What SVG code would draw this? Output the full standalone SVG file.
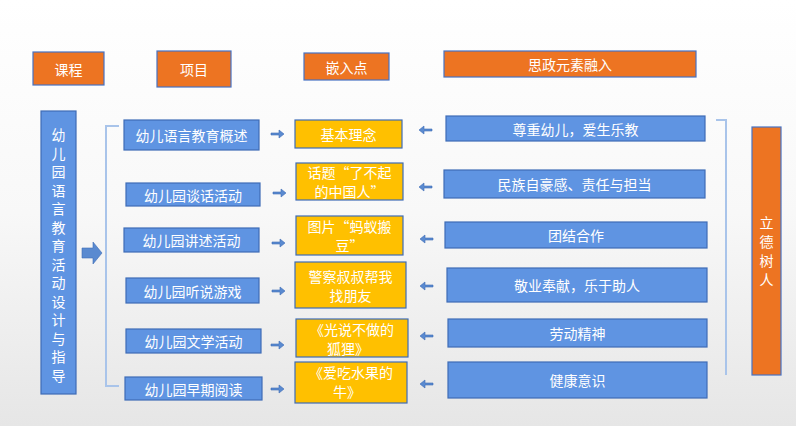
<svg xmlns="http://www.w3.org/2000/svg" width="796" height="426" viewBox="0 0 796 426">
<defs>
<linearGradient id="bg" x1="0" y1="0" x2="0" y2="1"><stop offset="0" stop-color="#ffffff"/><stop offset="0.5" stop-color="#f8f8f8"/><stop offset="1" stop-color="#e6e6e6"/></linearGradient>
<style>
.o{fill:#ed7422;stroke:#4672c4;stroke-width:1.2}
.b{fill:#5f94e2;stroke:#3e6cb6;stroke-width:1.2}
.y{fill:#ffc000;stroke:#3e6cb6;stroke-width:1.2}
text{font-family:"Noto Sans CJK SC",sans-serif;fill:#fff;font-size:14px;text-anchor:middle;dominant-baseline:central}
.ar{fill:#5a8ad0;stroke:#3e6cb6;stroke-width:0.6}
.br{fill:none;stroke:#a9c4ea;stroke-width:2}
</style>
</defs>
<rect width="796" height="426" fill="url(#bg)"/>
<g id="h1"><rect class="o" x="33" y="52" width="71" height="33"/><text x="68.5" y="68.5">课程</text></g>
<g id="h2"><rect class="o" x="157" y="51" width="74" height="36"/><text x="194" y="69">项目</text></g>
<g id="h3"><rect class="o" x="304" y="53" width="85" height="27"/><text x="346.5" y="66.5">嵌入点</text></g>
<g id="h4"><rect class="o" x="444" y="51" width="252" height="26"/><text x="570" y="64">思政元素融入</text></g>
<g id="course"><rect class="b" x="41" y="111" width="35" height="283"/>
<text x="58.5" y="94" font-size="15"><tspan x="58.5" dy="40">幼</tspan><tspan x="58.5" dy="18.5">儿</tspan><tspan x="58.5" dy="18.5">园</tspan><tspan x="58.5" dy="18.5">语</tspan><tspan x="58.5" dy="18.5">言</tspan><tspan x="58.5" dy="18.5">教</tspan><tspan x="58.5" dy="18.5">育</tspan><tspan x="58.5" dy="18.5">活</tspan><tspan x="58.5" dy="18.5">动</tspan><tspan x="58.5" dy="18.5">设</tspan><tspan x="58.5" dy="18.5">计</tspan><tspan x="58.5" dy="18.5">与</tspan><tspan x="58.5" dy="18.5">指</tspan><tspan x="58.5" dy="18.5">导</tspan></text></g>
<g id="goal"><rect class="o" x="752" y="127" width="29" height="248"/>
<text x="766.5" y="222" font-size="15"><tspan x="766.5" dy="0">立</tspan><tspan x="766.5" dy="19">德</tspan><tspan x="766.5" dy="19">树</tspan><tspan x="766.5" dy="19">人</tspan></text></g>
<g id="p1"><rect class="b" x="124" y="120" width="135" height="30"/><text x="191.5" y="135">幼儿语言教育概述</text></g>
<g id="p2"><rect class="b" x="126" y="183" width="134" height="23"/><text x="193" y="194.5">幼儿园谈话活动</text></g>
<g id="p3"><rect class="b" x="124" y="228" width="135" height="24"/><text x="191.5" y="240">幼儿园讲述活动</text></g>
<g id="p4"><rect class="b" x="126" y="278" width="133" height="25"/><text x="192.5" y="290.5">幼儿园听说游戏</text></g>
<g id="p5"><rect class="b" x="126" y="329" width="135" height="24"/><text x="193.5" y="341">幼儿园文学活动</text></g>
<g id="p6"><rect class="b" x="125" y="377" width="137" height="23"/><text x="193.5" y="388.5">幼儿园早期阅读</text></g>
<g id="e1"><rect class="y" x="295" y="120" width="107" height="28"/><text x="348.5" y="134">基本理念</text></g>
<g id="e2"><rect class="y" x="296" y="163" width="107" height="37"/><text x="349.5" y="171.5">话题“了不起</text><text x="349.5" y="191">的中国人”</text></g>
<g id="e3"><rect class="y" x="296" y="216" width="107" height="39"/><text x="349.5" y="225.5">图片“蚂蚁搬</text><text x="349.5" y="245">豆”</text></g>
<g id="e4"><rect class="y" x="295" y="262" width="111" height="46"/><text x="350.5" y="275.5">警察叔叔帮我</text><text x="350.5" y="295">找朋友</text></g>
<g id="e5"><rect class="y" x="296" y="319" width="112" height="38"/><text x="352" y="328.5">《光说不做的</text><text x="348" y="348">狐狸》</text></g>
<g id="e6"><rect class="y" x="295" y="362" width="112" height="41"/><text x="351" y="371.5">《爱吃水果的</text><text x="347" y="391">牛》</text></g>
<g id="s1"><rect class="b" x="446" y="116" width="259" height="25"/><text x="575.5" y="128.5">尊重幼儿，爱生乐教</text></g>
<g id="s2"><rect class="b" x="444" y="170" width="261" height="28"/><text x="574.5" y="184">民族自豪感、责任与担当</text></g>
<g id="s3"><rect class="b" x="445" y="222" width="262" height="26"/><text x="576" y="235">团结合作</text></g>
<g id="s4"><rect class="b" x="447" y="268" width="260" height="34"/><text x="577" y="285">敬业奉献，乐于助人</text></g>
<g id="s5"><rect class="b" x="448" y="319" width="259" height="28"/><text x="577.5" y="333">劳动精神</text></g>
<g id="s6"><rect class="b" x="448" y="362" width="259" height="36"/><text x="577.5" y="380">健康意识</text></g>
<g id="connectors">
<path class="br" d="M119,126 H106 V386 H119"/>
<path class="br" d="M716,120 H726 V375"/>
<path class="ar" d="M82,248 H93 V242 L102,253 L93,264 V258 H82 Z"/>
<g class="ar">
<path d="M271,133 H279 V130 L284,134 L279,138 V135 H271 Z"/>
<path d="M273,192 H281 V189 L286,193 L281,197 V194 H273 Z"/>
<path d="M272,242 H280 V239 L285,243 L280,247 V244 H272 Z"/>
<path d="M272,290 H280 V287 L285,291 L280,295 V292 H272 Z"/>
<path d="M271,344 H279 V341 L284,345 L279,349 V346 H271 Z"/>
<path d="M271,388 H279 V385 L284,389 L279,393 V390 H271 Z"/>
<path d="M432,129 H424 V126 L419,130 L424,134 V131 H432 Z"/>
<path d="M432,186 H424 V183 L419,187 L424,191 V188 H432 Z"/>
<path d="M433,238 H425 V235 L420,239 L425,243 V240 H433 Z"/>
<path d="M433,285 H425 V282 L420,286 L425,290 V287 H433 Z"/>
<path d="M433,335 H425 V332 L420,336 L425,340 V337 H433 Z"/>
<path d="M433,383 H425 V380 L420,384 L425,388 V385 H433 Z"/>
</g>
</g>
</svg>
